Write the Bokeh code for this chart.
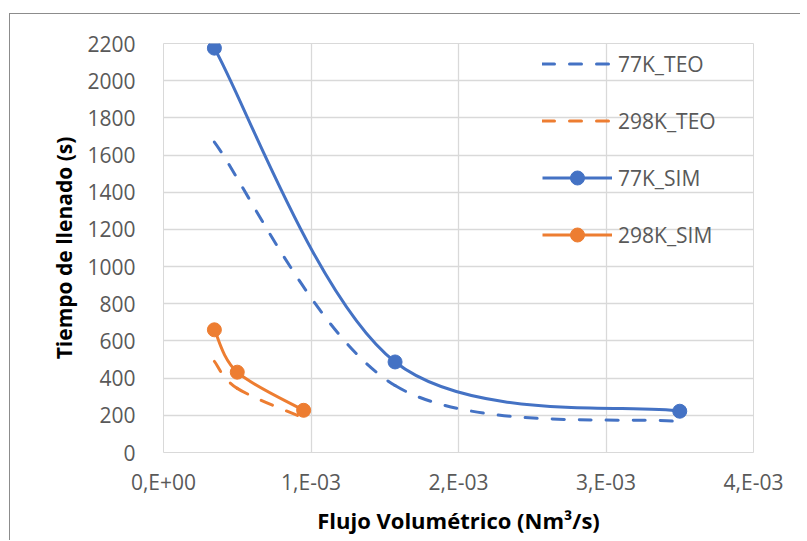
from bokeh.plotting import figure
from bokeh.models import (ColumnDataSource, Range1d, FixedTicker, CustomJSTickFormatter,
                          Legend, LegendItem, InlineStyleSheet)
from bokeh.embed import file_html
from bokeh.resources import INLINE

# ---- data ----
x_77 = [3.45e-4, 1.57e-3, 3.5e-3]
t77_sim = [2175, 487, 222]
t77_teo = [1670, 360, 165]

x_298 = [3.45e-4, 5.0e-4, 9.5e-4]
t298_sim = [660, 432, 227]
t298_teo = [490, 345, 185]

x_ticks = [0, 0.001, 0.002, 0.003, 0.004]
x_tick_labels = ["0,E+00", "1,E-03", "2,E-03", "3,E-03", "4,E-03"]
y_ticks = [0, 200, 400, 600, 800, 1000, 1200, 1400, 1600, 1800, 2000, 2200]

BLUE = "#4472C4"
ORANGE = "#ED7D31"
FONT = "Open Sans"


def smooth_source(xs, ys):
    """Excel-like smoothed line: one cubic Bezier per segment, control points from neighbours."""
    n = len(xs)
    d = dict(x0=[], y0=[], x1=[], y1=[], cx0=[], cy0=[], cx1=[], cy1=[])
    for i in range(n - 1):
        a = i - 1 if i > 0 else i
        b = i + 2 if i + 2 < n else i + 1
        d["x0"].append(xs[i]); d["y0"].append(ys[i])
        d["x1"].append(xs[i + 1]); d["y1"].append(ys[i + 1])
        d["cx0"].append(xs[i] + (xs[i + 1] - xs[a]) / 6.0)
        d["cy0"].append(ys[i] + (ys[i + 1] - ys[a]) / 6.0)
        d["cx1"].append(xs[i + 1] - (xs[b] - xs[i]) / 6.0)
        d["cy1"].append(ys[i + 1] - (ys[b] - ys[i]) / 6.0)
    return ColumnDataSource(d)


p = figure(width=800, height=540, output_backend="svg", toolbar_location=None,
           x_range=Range1d(0, 0.004), y_range=Range1d(0, 2200),
           min_border_left=163, min_border_right=47, min_border_top=43, min_border_bottom=88)

p.outline_line_color = "#d9d9d9"
p.background_fill_color = "white"
p.border_fill_color = "white"

# outer chart-area frame (only its left and top edges are inside the picture)
p.stylesheets = [InlineStyleSheet(css="""
:host { position: relative; }
:host::before { content: ""; position: absolute; left: 9px; top: 13px; width: 0;
  height: calc(100% - 13px); border-left: 1px solid #8c8c8c; pointer-events: none; z-index: 5; }
:host::after { content: ""; position: absolute; left: 9px; top: 13px; height: 0;
  width: calc(100% - 9px); border-top: 1px solid #8c8c8c; pointer-events: none; z-index: 5; }
""")]

# grids
p.xgrid.grid_line_color = "#d9d9d9"
p.ygrid.grid_line_color = "#d9d9d9"
p.xgrid.grid_line_width = 1.3
p.ygrid.grid_line_width = 1.3

# axes
p.xaxis.ticker = FixedTicker(ticks=x_ticks)
p.yaxis.ticker = FixedTicker(ticks=y_ticks)
p.xaxis.formatter = CustomJSTickFormatter(
    args=dict(tvals=x_ticks, tlabels=x_tick_labels),
    code="""
    for (let i = 0; i < tvals.length; i++) {
        if (Math.abs(tvals[i] - tick) < 1e-9) { return tlabels[i]; }
    }
    return "";
    """)
for ax in (p.xaxis[0], p.yaxis[0]):
    ax.axis_line_color = None
    ax.major_tick_line_color = None
    ax.minor_tick_line_color = None
    ax.major_label_text_font = FONT
    ax.major_label_text_font_size = "21px"
    ax.major_label_text_color = "#595959"
    ax.axis_label_text_font = FONT
    ax.axis_label_text_font_style = "bold"
    ax.axis_label_text_color = "#000000"

p.xaxis.axis_label_text_font_size = "22px"
p.yaxis.axis_label_text_font_size = "21px"
p.xaxis.axis_label = "Flujo Volumétrico (Nm³/s)"
p.yaxis.axis_label = "Tiempo de llenado (s)"
p.xaxis.major_label_standoff = 9
p.yaxis.major_label_standoff = 22
p.xaxis.axis_label_standoff = 6
p.yaxis.axis_label_standoff = 6

# series
dash = "12 15"
r_teo77 = p.bezier(x0="x0", y0="y0", x1="x1", y1="y1", cx0="cx0", cy0="cy0", cx1="cx1", cy1="cy1",
                   source=smooth_source(x_77, t77_teo), line_color=BLUE, line_width=3,
                   line_dash=dash, line_cap="round")
r_teo298 = p.bezier(x0="x0", y0="y0", x1="x1", y1="y1", cx0="cx0", cy0="cy0", cx1="cx1", cy1="cy1",
                    source=smooth_source(x_298, t298_teo), line_color=ORANGE, line_width=3,
                    line_dash=dash, line_cap="round")
r_sim77 = p.bezier(x0="x0", y0="y0", x1="x1", y1="y1", cx0="cx0", cy0="cy0", cx1="cx1", cy1="cy1",
                   source=smooth_source(x_77, t77_sim), line_color=BLUE, line_width=3)
m_sim77 = p.scatter(x_77, t77_sim, size=14, fill_color=BLUE, line_color=BLUE)
r_sim298 = p.bezier(x0="x0", y0="y0", x1="x1", y1="y1", cx0="cx0", cy0="cy0", cx1="cx1", cy1="cy1",
                    source=smooth_source(x_298, t298_sim), line_color=ORANGE, line_width=3)
m_sim298 = p.scatter(x_298, t298_sim, size=14, fill_color=ORANGE, line_color=ORANGE)

legend = Legend(items=[
    LegendItem(label="77K_TEO", renderers=[r_teo77]),
    LegendItem(label="298K_TEO", renderers=[r_teo298]),
    LegendItem(label="77K_SIM", renderers=[r_sim77, m_sim77]),
    LegendItem(label="298K_SIM", renderers=[r_sim298, m_sim298]),
], location=(379, 200))
legend.background_fill_alpha = 0
legend.border_line_color = None
legend.padding = 0
legend.margin = 0
legend.glyph_width = 70
legend.glyph_height = 35
legend.label_height = 20
legend.spacing = 22
legend.label_standoff = 6
legend.label_text_font = FONT
legend.label_text_font_size = "21px"
legend.label_text_color = "#595959"
p.add_layout(legend, "center")

open("out.html", "w").write(file_html(p, INLINE))
